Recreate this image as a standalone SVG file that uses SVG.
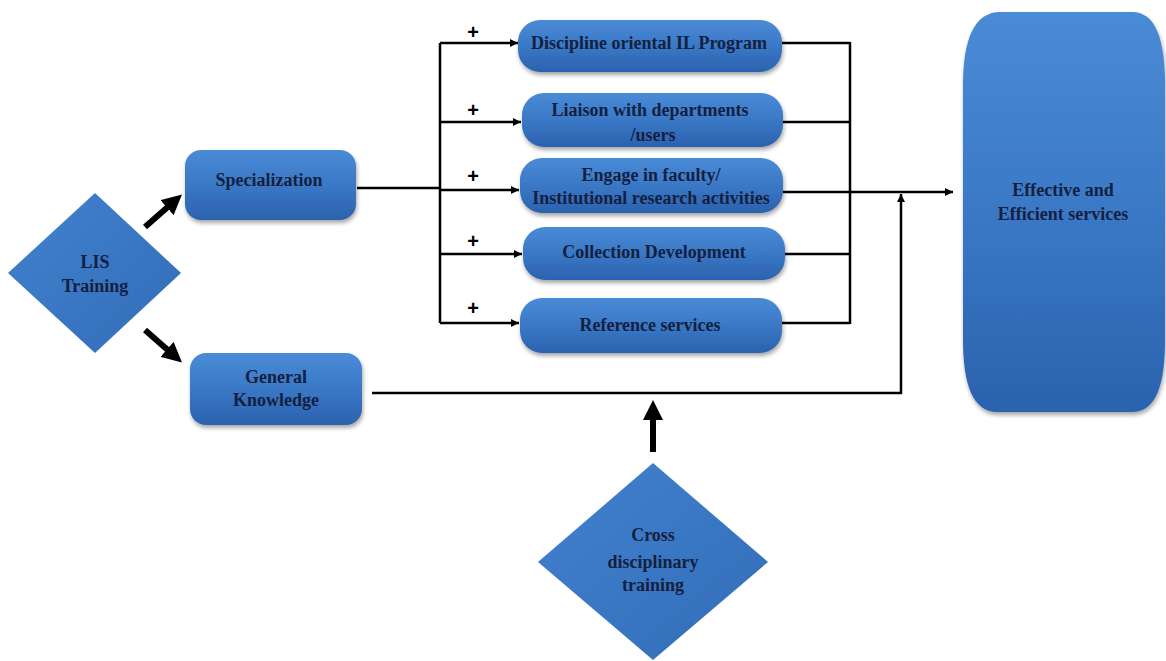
<svg xmlns="http://www.w3.org/2000/svg" width="1166" height="661" viewBox="0 0 1166 661">
<defs>
<linearGradient id="g" x1="0" y1="0" x2="0" y2="1">
<stop offset="0" stop-color="#4a8bd6"/>
<stop offset="0.5" stop-color="#3a78c6"/>
<stop offset="1" stop-color="#2b62ae"/>
</linearGradient>
<linearGradient id="gd" x1="0" y1="0" x2="1" y2="1">
<stop offset="0" stop-color="#4282cf"/>
<stop offset="1" stop-color="#326cb8"/>
</linearGradient>
<filter id="sh" x="-10%" y="-10%" width="130%" height="140%">
<feGaussianBlur in="SourceAlpha" stdDeviation="2"/>
<feOffset dx="1" dy="3"/>
<feComponentTransfer><feFuncA type="linear" slope="0.35"/></feComponentTransfer>
<feMerge><feMergeNode/><feMergeNode in="SourceGraphic"/></feMerge>
</filter>
<marker id="sa" viewBox="0 0 10 10" refX="10" refY="5" markerWidth="10" markerHeight="8" markerUnits="userSpaceOnUse" orient="auto">
<path d="M0,0 L10,5 L0,10 z" fill="#000"/>
</marker>
<marker id="ba" viewBox="0 0 10 10" refX="2" refY="5" markerWidth="20" markerHeight="20" markerUnits="userSpaceOnUse" orient="auto">
<path d="M0,0 L10,5 L0,10 z" fill="#000"/>
</marker>
</defs>
<style>
.box{fill:url(#g);filter:url(#sh);}
.dia{fill:url(#gd);}
.t{font-family:"Liberation Serif",serif;font-weight:bold;font-size:18px;fill:#14203f;text-anchor:middle;}
.ln{stroke:#000;stroke-width:2.5;fill:none;}
.thick{stroke:#000;stroke-width:6;fill:none;}
.plus{font-family:"Liberation Sans",sans-serif;font-weight:bold;font-size:20px;fill:#000;text-anchor:middle;}
</style>
<rect width="1166" height="661" fill="#fff"/>

<g id="connectors">
<line class="thick" x1="145" y1="227" x2="170" y2="205" marker-end="url(#ba)"/>
<line class="thick" x1="145" y1="330" x2="170" y2="352" marker-end="url(#ba)"/>
<line class="thick" x1="653" y1="452" x2="653" y2="416" marker-end="url(#ba)"/>
<polyline class="ln" points="357,188 440,188"/>
<polyline class="ln" points="440,43 440,323"/>
<line class="ln" x1="440" y1="43" x2="518" y2="43" marker-end="url(#sa)"/>
<line class="ln" x1="440" y1="122" x2="521" y2="122" marker-end="url(#sa)"/>
<line class="ln" x1="440" y1="190" x2="519" y2="190" marker-end="url(#sa)"/>
<line class="ln" x1="440" y1="254" x2="522" y2="254" marker-end="url(#sa)"/>
<line class="ln" x1="440" y1="323" x2="519" y2="323" marker-end="url(#sa)"/>
<line class="ln" x1="782" y1="43" x2="850" y2="43"/>
<line class="ln" x1="783" y1="122" x2="850" y2="122"/>
<line class="ln" x1="783" y1="192" x2="850" y2="192"/>
<line class="ln" x1="785" y1="254" x2="850" y2="254"/>
<line class="ln" x1="782" y1="323" x2="850" y2="323"/>
<polyline class="ln" points="850,42 850,324"/>
<line class="ln" x1="850" y1="192" x2="953" y2="192" marker-end="url(#sa)"/>
<polyline class="ln" points="372,393 901,393 901,194" marker-end="url(#sa)"/>
<text class="plus" x="473" y="39">+</text>
<text class="plus" x="473" y="117">+</text>
<text class="plus" x="473" y="183">+</text>
<text class="plus" x="473" y="248">+</text>
<text class="plus" x="473" y="315">+</text>
</g>

<g id="lis">
<polygon class="dia" points="95,193 181,273 95,353 8,273"/>
<text class="t" x="95" y="268">LIS</text>
<text class="t" x="95" y="292">Training</text>
</g>

<g id="specialization">
<rect class="box" x="185" y="150" width="171" height="70" rx="16"/>
<text class="t" x="269" y="186">Specialization</text>
</g>

<g id="general">
<rect class="box" x="190" y="353" width="172" height="72" rx="16"/>
<text class="t" x="276" y="383">General</text>
<text class="t" x="276" y="406">Knowledge</text>
</g>

<g id="discipline">
<rect class="box" x="518" y="20" width="264" height="52" rx="22"/>
<text class="t" x="649" y="49">Discipline oriental IL Program</text>
</g>

<g id="liaison">
<rect class="box" x="522" y="93" width="261" height="54" rx="22"/>
<text class="t" x="650" y="116">Liaison with departments</text>
<text class="t" x="653" y="141">/users</text>
</g>

<g id="engage">
<rect class="box" x="520" y="158" width="263" height="55" rx="22"/>
<text class="t" x="651" y="181">Engage in faculty/</text>
<text class="t" x="651" y="204">Institutional research activities</text>
</g>

<g id="collection">
<rect class="box" x="523" y="227" width="262" height="53" rx="22"/>
<text class="t" x="654" y="258">Collection Development</text>
</g>

<g id="reference">
<rect class="box" x="520" y="298" width="262" height="55" rx="22"/>
<text class="t" x="650" y="331">Reference services</text>
</g>

<g id="effective">
<path class="box" d="M1000,12 L1132,12 C1156,12 1165,40 1165,85 L1165,340 C1165,385 1156,412 1132,412 L997,412 C973,412 963,385 963,340 L963,85 C963,40 974,12 1000,12 Z"/>
<text class="t" x="1063" y="196">Effective and</text>
<text class="t" x="1063" y="220">Efficient services</text>
</g>

<g id="cross">
<polygon class="dia" points="653,463 768,562 653,660 538,562"/>
<text class="t" x="653" y="541">Cross</text>
<text class="t" x="653" y="568">disciplinary</text>
<text class="t" x="653" y="591">training</text>
</g>
</svg>
